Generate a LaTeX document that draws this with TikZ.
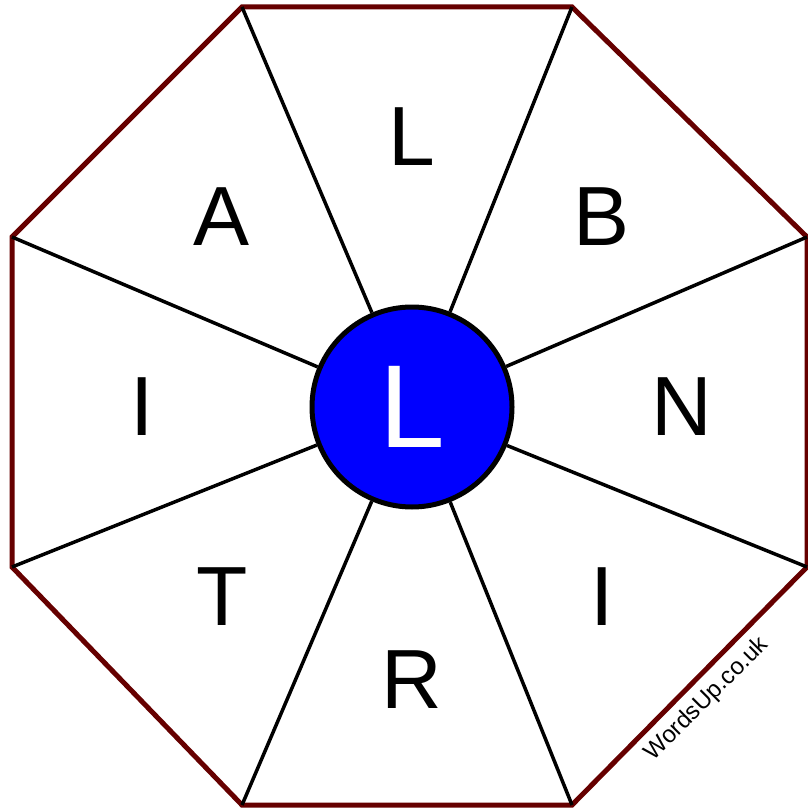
\documentclass[tikz,border=0pt]{standalone}
\usepackage{fontspec}
\setmainfont{Liberation Sans}
\begin{document}
\begin{tikzpicture}[x=1pt,y=-1pt,
  rim/.style={draw={rgb,255:red,102;green,0;blue,0},line width=5pt,line join=miter},
  spoke/.style={draw=black,line width=3.5pt},
  hub/.style={circle,draw=black,line width=5pt,fill={rgb,255:red,0;green,0;blue,255},minimum size=200pt,inner sep=0pt,text=white,font=\fontsize{118}{118}\selectfont},
  letter/.style={font=\fontsize{84}{84}\selectfont,inner sep=0pt}]
\useasboundingbox (0,0) rectangle (807,810);
\coordinate (v1) at (242,7);
\coordinate (v2) at (572,7);
\coordinate (v3) at (807,237);
\coordinate (v4) at (807,567);
\coordinate (v5) at (572,805);
\coordinate (v6) at (242,805);
\coordinate (v7) at (12,567);
\coordinate (v8) at (12,237);
\draw[rim] (v1) -- (v2) -- (v3) -- (v4) -- (v5) -- (v6) -- (v7) -- (v8) -- cycle;
\node[hub] (c) at (412,407) {L};
\foreach \v in {v1,v2,v3,v4,v5,v6,v7,v8} \draw[spoke] (c) -- (\v);
\node[letter] (l1) at (412,137) {L};
\node[letter] (l2) at (602,217) {B};
\node[letter] (l3) at (682,407) {N};
\node[letter] (l4) at (602,597) {I};
\node[letter] (l5) at (412,680) {R};
\node[letter] (l6) at (222,597) {T};
\node[letter] (l7) at (142,407) {I};
\node[letter] (l8) at (222,217) {A};
\node[rotate=45,font=\fontsize{24}{24}\selectfont,inner sep=0pt] (w) at (707,699) {WordsUp.co.uk};
\end{tikzpicture}
\end{document}
